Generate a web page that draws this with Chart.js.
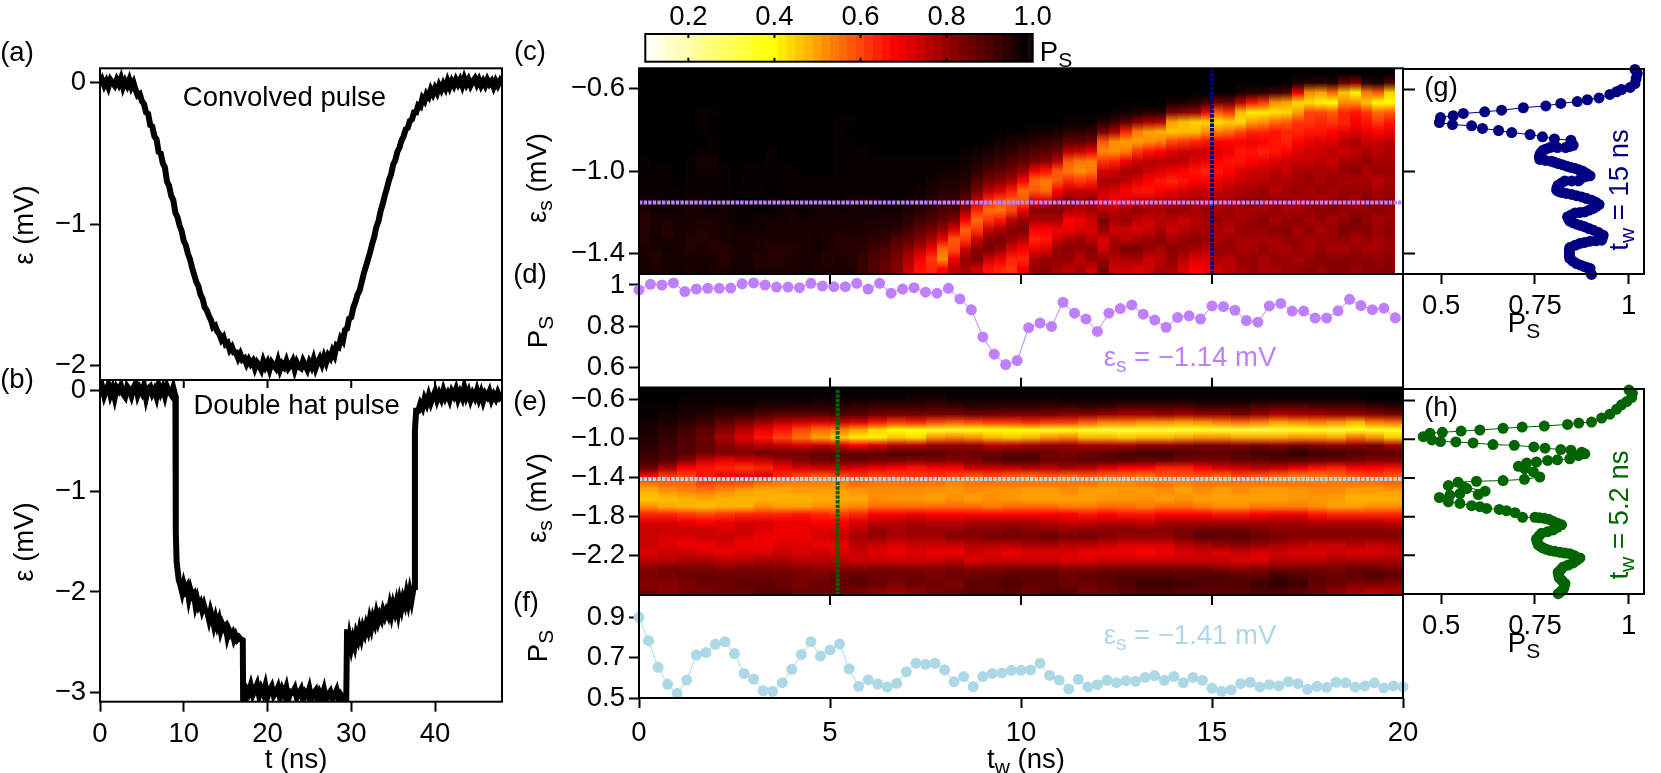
<!DOCTYPE html>
<html>
<head>
<meta charset="utf-8">
<title>Pulse panels</title>
<script src="https://cdn.jsdelivr.net/npm/chart.js@4/dist/chart.umd.min.js"></script>
<style>
  html, body { margin: 0; padding: 0; background: #fff; }
  #page { position: relative; width: 1661px; height: 773px; overflow: hidden; }
  canvas { position: absolute; left: 0; top: 0; }
  .lbl { position: absolute; transform: translate(-50%, -50%); font: 27.5px "Liberation Sans", Arial, sans-serif; line-height: 1; white-space: nowrap; color: #000; }
  .rot { transform: translate(-50%, -50%) rotate(-90deg); }
  .lbl sub { font-size: 21px; line-height: 0; vertical-align: -6px; }
</style>
</head>
<body>
<div id="page"></div>
<script>
"use strict";

// panel (a) convolved pulse
const pulseATimes = [0,0.25,0.5,0.75,1,1.25,1.5,1.75,2,2.25,2.5,2.75,3,3.25,3.5,3.75,4,4.25,4.5,4.75,5,5.25,5.5,5.75,6,6.25,6.5,6.75,7,7.25,7.5,7.75,8,8.25,8.5,8.75,9,9.25,9.5,9.75,10,10.25,10.5,10.75,11,11.25,11.5,11.75,12,12.25,12.5,12.75,13,13.25,13.5,13.75,14,14.25,14.5,14.75,15,15.25,15.5,15.75,16,16.25,16.5,16.75,17,17.25,17.5,17.75,18,18.25,18.5,18.75,19,19.25,19.5,19.75,20,20.25,20.5,20.75,21,21.25,21.5,21.75,22,22.25,22.5,22.75,23,23.25,23.5,23.75,24,24.25,24.5,24.75,25,25.25,25.5,25.75,26,26.25,26.5,26.75,27,27.25,27.5,27.75,28,28.25,28.5,28.75,29,29.25,29.5,29.75,30,30.25,30.5,30.75,31,31.25,31.5,31.75,32,32.25,32.5,32.75,33,33.25,33.5,33.75,34,34.25,34.5,34.75,35,35.25,35.5,35.75,36,36.25,36.5,36.75,37,37.25,37.5,37.75,38,38.25,38.5,38.75,39,39.25,39.5,39.75,40,40.25,40.5,40.75,41,41.25,41.5,41.75,42,42.25,42.5,42.75,43,43.25,43.5,43.75,44,44.25,44.5,44.75,45,45.25,45.5,45.75,46,46.25,46.5,46.75,47,47.25,47.5,47.75,48];
const pulseAValues = [-0.01,0.02,-0.02,0.01,-0.03,0.02,0,-0.02,0.02,-0.01,0.03,-0.03,0.01,-0.02,0.02,-0.03,0,-0.05,-0.09,-0.08,-0.13,-0.15,-0.21,-0.22,-0.30,-0.31,-0.38,-0.40,-0.49,-0.50,-0.57,-0.60,-0.70,-0.73,-0.80,-0.83,-0.92,-0.95,-1.01,-1.05,-1.12,-1.15,-1.21,-1.25,-1.31,-1.36,-1.41,-1.44,-1.50,-1.53,-1.59,-1.61,-1.65,-1.68,-1.73,-1.72,-1.76,-1.78,-1.82,-1.80,-1.85,-1.84,-1.89,-1.87,-1.91,-1.91,-1.95,-1.92,-1.96,-1.95,-1.99,-1.96,-1.99,-1.97,-2.02,-1.98,-2.00,-2.03,-1.97,-2.01,-1.98,-2.03,-1.98,-2.00,-2.02,-1.97,-2.03,-1.99,-2.01,-1.97,-2.02,-2.00,-1.97,-2.03,-1.98,-2.01,-2.02,-1.97,-2.00,-2.03,-1.98,-2.01,-1.96,-2.02,-1.98,-1.95,-1.99,-1.94,-1.98,-1.93,-1.95,-1.90,-1.93,-1.86,-1.87,-1.81,-1.83,-1.75,-1.74,-1.67,-1.66,-1.59,-1.55,-1.50,-1.47,-1.41,-1.35,-1.30,-1.25,-1.20,-1.14,-1.09,-1.02,-0.98,-0.91,-0.86,-0.80,-0.75,-0.69,-0.65,-0.58,-0.55,-0.49,-0.46,-0.41,-0.38,-0.33,-0.32,-0.27,-0.26,-0.21,-0.21,-0.16,-0.17,-0.11,-0.13,-0.08,-0.10,-0.05,-0.08,-0.04,-0.07,-0.02,-0.05,-0.01,-0.04,0.01,-0.03,0.01,-0.02,0.02,-0.01,0.02,-0.02,0.03,-0.01,0.02,-0.02,0.01,0.03,-0.01,0.02,-0.02,0.01,-0.02,0.02,-0.01,0.01,-0.03,0.01,-0.02,0.01,-0.02];

// panel (b) double hat pulse
const pulseBTimes = [0,0.25,0.5,0.75,1,1.25,1.5,1.75,2,2.25,2.5,2.75,3,3.25,3.5,3.75,4,4.25,4.5,4.75,5,5.25,5.5,5.75,6,6.25,6.5,6.75,7,7.25,7.5,7.75,8,8.25,8.5,8.75,8.9,9,9.05,9.15,9.4,9.6,9.8,10,10.2,10.4,10.6,10.8,11,11.2,11.4,11.6,11.8,12,12.2,12.4,12.6,12.8,13,13.2,13.4,13.6,13.8,14,14.2,14.4,14.6,14.8,15,15.2,15.4,15.6,15.8,16,16.2,16.4,16.6,16.8,17.05,17.1,17.3,17.35,17.4,17.75,18,18.25,18.5,18.75,19,19.25,19.5,19.75,20,20.25,20.5,20.75,21,21.25,21.5,21.75,22,22.25,22.5,22.75,23,23.25,23.5,23.75,24,24.25,24.5,24.75,25,25.25,25.5,25.75,26,26.25,26.5,26.75,27,27.25,27.5,27.75,28,28.25,28.5,28.75,29,29.25,29.4,29.5,29.6,29.8,30,30.2,30.4,30.6,30.8,31,31.2,31.4,31.6,31.8,32,32.2,32.4,32.6,32.8,33,33.2,33.4,33.6,33.8,34,34.2,34.4,34.6,34.8,35,35.2,35.4,35.6,35.8,36,36.2,36.4,36.6,36.8,37,37.2,37.4,37.55,37.6,37.75,38,38.25,38.5,38.75,39,39.25,39.5,39.75,40,40.25,40.5,40.75,41,41.25,41.5,41.75,42,42.25,42.5,42.75,43,43.25,43.5,43.75,44,44.25,44.5,44.75,45,45.25,45.5,45.75,46,46.25,46.5,46.75,47,47.25,47.5,47.75,48];
const pulseBValues = [-0.02,0.04,-0.05,0.01,0.06,-0.04,0.02,-0.07,0.03,0,0.05,-0.03,-0.06,0.04,0.01,-0.05,0.03,0.07,-0.04,0.02,-0.02,0.05,-0.07,0.02,0.04,-0.03,0.01,-0.06,0.05,-0.02,0.03,-0.05,0.04,-0.01,-0.04,0.03,-0.02,-0.05,-1.4,-1.7,-1.88,-1.93,-2.0,-1.92,-1.98,-1.95,-2.06,-1.98,-2.04,-2.02,-2.13,-2.07,-2.14,-2.11,-2.18,-2.13,-2.19,-2.2,-2.27,-2.19,-2.25,-2.33,-2.26,-2.33,-2.28,-2.38,-2.32,-2.36,-2.34,-2.44,-2.38,-2.42,-2.4,-2.47,-2.43,-2.47,-2.45,-2.47,-2.48,-3.2,-3.2,-3.1,-2.95,-3.0,-2.93,-3.02,-2.97,-2.92,-3.03,-2.96,-3.01,-2.93,-3.04,-2.98,-2.94,-3.03,-3.0,-2.95,-3.05,-2.97,-3.02,-2.95,-3.06,-2.99,-3.0,-2.96,-3.05,-3.01,-2.97,-3.07,-3.0,-3.03,-2.96,-3.06,-3.01,-2.98,-3.08,-3.0,-3.04,-2.97,-3.07,-3.02,-2.99,-3.06,-3.03,-2.98,-3.08,-3.02,-3.05,-3.03,-3.09,-2.37,-2.6,-2.46,-2.55,-2.47,-2.53,-2.42,-2.47,-2.38,-2.45,-2.36,-2.41,-2.33,-2.38,-2.28,-2.35,-2.26,-2.31,-2.22,-2.29,-2.23,-2.27,-2.19,-2.24,-2.19,-2.23,-2.14,-2.22,-2.13,-2.19,-2.11,-2.2,-2.09,-2.16,-2.07,-2.12,-2.02,-2.1,-2.0,-2.08,-1.98,-1.95,-0.4,-0.2,-0.2,-0.13,-0.17,-0.08,-0.13,-0.05,-0.12,-0.06,-0.01,-0.09,-0.03,-0.08,0,-0.07,-0.03,-0.09,-0.01,-0.05,0.01,-0.08,-0.02,-0.07,0.03,-0.06,-0.01,-0.09,-0.03,-0.07,0,-0.08,-0.02,-0.1,-0.03,-0.06,-0.01,-0.09,-0.04,-0.08,-0.02,-0.07,-0.05];

// panel (c) P_S in percent: one list per t_w cell (0.3 ns), top row eps = -0.5, 21 rows to -1.5
const heatCColumns = [
[99,99,99,99,99,99,99,99,99,98,98,98,98,97,96,95,95,95,96,96,96],
[99,99,99,99,99,99,99,99,99,99,98,98,98,97,97,96,96,97,96,95,96],
[99,99,99,99,99,99,99,99,99,99,98,98,98,98,97,96,95,96,97,96,96],
[99,99,99,99,99,99,99,99,99,99,99,99,98,98,97,96,96,97,96,96,97],
[99,99,99,99,99,99,99,99,99,98,98,98,98,97,96,96,96,95,95,96,96],
[99,99,99,99,98,98,98,99,98,97,97,98,98,97,97,96,95,95,96,96,97],
[99,99,99,99,98,99,99,98,98,97,97,98,98,98,97,96,96,95,95,96,96],
[99,99,99,99,99,99,99,99,99,99,98,98,98,98,97,97,96,96,95,95,96],
[99,99,99,99,99,99,99,99,99,99,99,99,98,99,98,98,97,97,96,96,97],
[99,99,99,99,99,99,99,99,99,99,98,98,98,99,98,98,97,97,96,96,97],
[99,99,99,99,99,99,99,99,99,99,98,98,98,99,98,97,97,96,96,95,96],
[99,99,99,99,99,99,99,99,98,98,98,98,99,98,98,97,96,96,95,95,96],
[99,99,99,99,99,99,99,99,99,99,98,98,98,98,97,97,96,96,95,95,96],
[99,99,99,99,99,99,99,99,99,99,98,98,98,98,97,96,96,96,95,96,96],
[99,99,99,99,99,99,99,99,99,99,99,98,98,98,98,97,96,96,96,96,97],
[99,99,99,99,99,99,99,99,99,99,99,98,98,98,97,97,96,97,97,96,96],
[99,99,99,99,99,99,99,99,99,99,99,98,98,98,97,97,96,96,96,95,96],
[99,99,99,99,99,98,98,98,98,98,98,98,98,98,97,96,96,95,95,96,96],
[99,99,99,99,99,98,99,98,98,98,98,98,98,97,97,96,96,95,95,95,96],
[99,99,99,99,99,99,99,99,98,98,98,98,98,97,97,96,96,95,94,93,93],
[99,99,99,99,99,99,99,99,99,98,98,98,98,97,97,96,95,94,92,90,90],
[99,99,99,99,99,99,99,99,99,98,98,98,98,98,97,96,95,93,90,88,87],
[99,99,99,99,99,99,99,99,99,98,98,98,98,98,97,96,94,90,86,84,83],
[99,99,99,99,99,99,99,99,99,98,98,98,98,97,96,94,91,87,82,77,74],
[99,99,99,99,99,99,99,99,99,98,98,98,97,96,95,92,88,83,76,69,66],
[99,99,99,99,99,99,99,99,99,98,98,97,96,95,93,90,85,78,69,62,64],
[99,99,99,99,99,99,99,99,99,98,97,96,95,93,91,87,80,70,56,52,68],
[99,99,99,99,99,99,99,99,99,98,97,96,95,93,90,84,72,58,60,70,76],
[99,99,99,99,99,99,99,99,98,97,96,95,92,88,80,68,57,62,74,80,78],
[99,99,99,99,99,99,99,99,97,96,94,90,85,76,64,56,62,74,82,84,74],
[99,99,99,99,99,99,99,98,96,94,90,85,76,64,56,62,74,82,84,74,66],
[99,99,99,99,99,99,99,97,95,92,88,82,72,60,55,66,78,84,80,70,64],
[99,99,99,99,99,99,98,96,94,90,85,78,66,57,60,76,82,80,72,64,62],
[99,99,99,99,99,99,98,95,92,88,80,68,56,58,70,80,84,76,68,64,70],
[99,99,99,99,99,99,97,94,90,84,70,56,58,72,82,78,68,64,70,78,80],
[99,99,99,99,99,99,97,93,89,82,66,54,56,72,82,78,68,66,72,80,82],
[99,99,99,99,99,99,96,92,86,76,58,58,68,78,82,78,70,74,80,80,78],
[99,99,99,99,99,98,94,88,76,58,54,64,74,82,78,68,70,78,82,80,76],
[99,99,99,99,99,98,94,88,74,55,52,62,74,80,76,70,72,80,80,76,78],
[99,99,99,99,99,98,93,86,70,54,54,64,74,82,78,74,72,76,82,80,74],
[99,99,99,99,99,95,84,58,53,62,72,78,74,72,76,84,80,72,74,80,84],
[99,99,99,99,98,92,78,52,52,64,74,78,72,68,76,78,74,78,80,76,74],
[99,99,99,99,97,88,64,50,54,70,78,76,68,72,78,80,74,76,84,78,74],
[99,99,99,99,96,82,54,50,62,74,78,72,66,74,80,76,72,78,84,78,72],
[99,99,99,99,95,78,50,52,66,76,74,68,66,74,78,74,74,80,80,74,74],
[99,99,99,99,95,76,48,54,68,76,72,66,68,76,78,76,78,82,78,76,78],
[99,99,99,96,84,50,46,60,72,76,70,64,70,76,80,76,74,78,82,80,78],
[99,99,99,96,82,47,47,62,74,76,68,66,72,78,80,74,76,80,80,76,72],
[99,99,99,95,80,45,47,64,74,72,66,68,74,78,78,76,78,82,78,72,68],
[99,99,99,92,70,45,52,66,74,70,64,68,74,76,80,78,78,80,76,72,70],
[99,99,99,85,58,43,54,68,72,68,66,70,74,78,78,80,78,78,80,78,74],
[99,99,99,86,62,45,56,68,70,66,68,72,76,78,80,78,76,80,80,76,76],
[99,99,96,76,47,44,60,68,66,66,72,74,78,80,78,78,80,78,78,80,78],
[99,99,95,66,42,50,64,70,66,68,74,76,78,82,78,80,80,78,78,80,80],
[99,99,94,62,42,52,64,68,64,70,74,76,80,80,78,82,80,78,80,78,78],
[99,99,92,52,43,56,66,66,66,72,76,78,76,80,80,78,82,78,78,80,78],
[99,99,90,50,44,58,64,64,68,74,74,78,78,80,78,80,82,80,78,80,80],
[99,96,70,44,50,62,64,68,72,74,78,78,80,78,78,82,78,80,80,78,80],
[99,95,52,44,60,62,66,70,74,74,78,80,78,80,80,78,82,78,78,80,82],
[99,94,50,41,60,64,66,72,74,76,78,78,80,78,82,80,78,80,80,82,80],
[99,95,56,40,58,62,68,72,76,74,78,80,78,80,82,78,80,80,78,82,82],
[99,86,46,52,64,64,70,76,74,78,80,78,80,82,80,80,84,80,78,82,82],
[99,82,41,52,66,68,72,78,76,78,82,78,80,78,80,84,82,78,80,82,80],
[99,94,54,46,62,66,70,74,78,80,78,78,80,82,80,82,82,80,78,82,82],
[99,96,58,40,56,62,68,74,76,78,80,76,78,80,82,78,80,78,78,80,82],
[99,90,45,40,58,66,70,76,78,78,80,78,80,82,80,80,82,80,80,82,82]
];

// panel (e) P_S in percent: one list per 0.5 ns cell, top row eps = -0.48, 27 rows to -2.6
const heatEColumns = [
[99,99,98,98,97,96,95,94,93,91,86,68,54,48,46,52,64,72,74,74,74,72,76,82,84,82,84],
[99,99,98,97,96,94,93,92,91,88,78,62,56,51,47,49,64,72,74,72,72,74,76,84,84,82,82],
[99,98,97,96,94,92,90,90,90,82,68,60,56,53,48,48,62,70,74,72,70,74,78,84,86,84,84],
[99,98,97,95,92,88,86,87,86,74,66,66,60,54,49,47,60,68,74,74,70,72,78,84,86,86,84],
[99,98,96,93,88,82,78,82,84,70,64,70,58,52,48,48,62,70,72,74,72,70,76,82,86,86,86],
[99,98,96,92,84,76,72,78,84,72,62,71,57,50,48,48,64,72,74,72,70,72,76,84,86,88,86],
[99,98,95,90,80,70,66,76,86,74,64,73,54,49,48,52,64,72,72,70,70,72,78,84,86,88,88],
[99,98,95,88,76,66,60,74,86,78,68,64,53,49,48,50,64,70,70,70,72,74,78,82,86,86,88],
[99,98,94,88,74,60,55,72,86,82,72,60,53,50,48,50,66,70,70,70,72,72,76,82,84,84,86],
[99,97,94,88,72,56,50,74,88,84,74,58,53,50,49,52,64,68,72,72,70,74,76,80,84,86,86],
[99,98,94,90,74,54,46,72,88,86,74,60,53,50,49,52,62,68,72,74,70,72,76,82,86,88,86],
[99,97,93,89,72,50,42,68,88,86,72,62,55,51,49,53,64,72,76,78,76,74,74,82,88,88,84],
[99,97,92,86,66,44,42,72,88,84,70,60,54,52,52,56,68,76,80,80,74,72,74,84,86,86,82],
[99,97,92,84,62,40,46,76,90,84,68,60,54,52,51,56,68,76,78,78,72,70,74,82,86,84,80],
[98,96,92,85,64,38,44,76,90,82,66,62,54,52,51,56,70,78,80,78,74,72,74,82,86,86,82],
[98,96,91,84,60,36,52,80,88,84,68,62,54,51,50,56,68,76,80,78,74,70,74,82,84,86,84],
[99,97,92,84,58,36,54,80,86,82,68,60,52,51,52,56,68,76,80,82,74,70,76,84,86,84,86],
[99,97,94,86,60,38,52,80,86,84,74,58,54,52,50,56,68,78,82,82,76,74,72,82,86,88,88],
[99,97,93,85,62,40,48,76,86,88,74,60,54,51,52,54,68,78,82,84,76,72,74,82,88,88,88],
[99,97,93,84,62,40,46,76,88,90,74,58,54,51,51,56,68,78,84,84,76,70,74,84,88,90,88],
[99,97,93,84,64,38,48,78,88,90,76,56,54,50,50,56,68,78,82,84,78,72,74,84,88,88,86],
[99,97,92,84,62,36,52,80,86,86,76,58,54,50,50,56,68,76,82,86,78,72,74,84,88,88,88],
[99,98,92,82,62,38,54,80,84,86,78,56,54,52,50,54,68,74,80,84,76,72,72,82,86,86,88],
[99,98,93,82,58,36,48,78,86,88,76,58,54,50,50,54,66,74,82,84,76,70,72,82,88,86,84],
[99,98,92,80,54,34,48,78,88,88,72,56,52,50,51,56,68,76,82,82,74,70,74,84,88,88,86],
[99,98,90,78,54,34,46,78,90,88,68,56,52,51,51,56,66,76,82,80,72,70,74,84,90,90,88],
[99,98,90,78,52,34,48,80,92,86,68,54,54,50,52,54,66,74,82,80,72,68,74,84,90,92,90],
[99,98,90,80,52,34,48,80,92,86,64,58,54,52,50,56,68,78,82,80,72,70,74,84,90,92,90],
[99,98,90,78,50,34,50,82,90,84,64,58,52,50,52,56,68,78,84,84,76,72,74,84,88,92,88],
[99,98,92,80,52,36,52,84,88,84,68,58,54,52,50,54,68,78,86,88,78,74,74,84,90,90,88],
[99,98,92,80,54,34,52,84,88,84,72,56,54,50,50,52,66,78,86,88,80,72,74,82,90,90,88],
[99,98,92,84,56,34,50,82,90,86,74,60,54,52,50,52,66,78,86,88,82,74,72,80,88,90,88],
[99,98,90,80,54,32,50,84,92,86,76,58,54,50,50,54,68,78,84,86,80,72,72,82,88,92,90],
[99,98,88,76,50,34,50,82,92,88,74,56,54,50,50,54,70,78,82,84,78,74,76,84,92,94,90],
[99,98,88,78,52,36,52,84,94,88,70,54,54,51,51,54,70,78,82,82,76,72,76,84,90,92,88],
[99,98,90,78,54,36,52,82,92,86,66,54,54,52,51,52,66,76,82,82,74,72,76,84,88,88,86],
[99,98,90,80,52,34,50,80,92,84,64,56,54,52,50,50,64,76,82,82,74,74,78,84,86,86,82],
[99,98,90,80,48,36,56,82,90,84,68,58,54,50,48,50,64,76,82,82,76,72,78,86,88,84,78],
[99,99,92,82,54,36,52,84,88,82,68,60,54,50,48,52,64,76,82,82,74,72,78,86,90,84,76],
[99,99,94,84,56,36,46,78,88,82,66,58,56,50,48,52,64,74,82,82,76,74,78,84,88,82,78]
];

// colour bar cells, P_S in percent
const colorBarValues = [10,12,14,16,18,20,22,24,26,28,30,32,34,36,38,40,42,44,46,48,50,52,54,56,58,60,62,64,66,68,70,72,74,76,78,80,82,84,86,88,90,92,94,96,98,100];
const colorBarTicks = [0.2,0.4,0.6,0.8,1.0];
const colorBarLabels = ["0.2","0.4","0.6","0.8","1.0"];

// panel (d)
const cutDTimes = [0,0.3,0.6,0.9,1.2,1.5,1.8,2.1,2.4,2.7,3,3.3,3.6,3.9,4.2,4.5,4.8,5.1,5.4,5.7,6,6.3,6.6,6.9,7.2,7.5,7.8,8.1,8.4,8.7,9,9.3,9.6,9.9,10.2,10.5,10.8,11.1,11.4,11.7,12,12.3,12.6,12.9,13.2,13.5,13.8,14.1,14.4,14.7,15,15.3,15.6,15.9,16.2,16.5,16.8,17.1,17.4,17.7,18,18.3,18.6,18.9,19.2,19.5,19.8];
const cutDValues = [0.976,1.003,1.0,1.01,0.968,0.98,0.984,0.984,0.985,1.006,1.01,1.0,0.99,0.99,0.987,1.008,0.995,0.992,0.992,1.008,0.98,1.008,0.96,0.98,0.987,0.965,0.96,0.984,0.932,0.879,0.747,0.663,0.613,0.632,0.792,0.815,0.798,0.916,0.863,0.835,0.774,0.863,0.885,0.903,0.858,0.829,0.794,0.842,0.85,0.834,0.898,0.895,0.877,0.827,0.819,0.898,0.91,0.873,0.873,0.839,0.839,0.874,0.93,0.90,0.88,0.887,0.84];

// panel (f)
const cutFTimes = [0,0.25,0.5,0.75,1,1.25,1.5,1.75,2,2.25,2.5,2.75,3,3.25,3.5,3.75,4,4.25,4.5,4.75,5,5.25,5.5,5.75,6,6.25,6.5,6.75,7,7.25,7.5,7.75,8,8.25,8.5,8.75,9,9.25,9.5,9.75,10,10.25,10.5,10.75,11,11.25,11.5,11.75,12,12.25,12.5,12.75,13,13.25,13.5,13.75,14,14.25,14.5,14.75,15,15.25,15.5,15.75,16,16.25,16.5,16.75,17,17.25,17.5,17.75,18,18.25,18.5,18.75,19,19.25,19.5,19.75,20];
const cutFValues = [0.90,0.784,0.652,0.568,0.523,0.589,0.713,0.725,0.766,0.779,0.72,0.622,0.594,0.536,0.533,0.576,0.642,0.716,0.779,0.708,0.738,0.768,0.645,0.558,0.591,0.569,0.555,0.573,0.63,0.672,0.667,0.672,0.64,0.58,0.606,0.556,0.606,0.622,0.624,0.637,0.637,0.639,0.672,0.612,0.589,0.545,0.593,0.555,0.566,0.588,0.576,0.586,0.583,0.602,0.611,0.588,0.607,0.576,0.602,0.588,0.548,0.533,0.54,0.571,0.578,0.555,0.566,0.56,0.581,0.571,0.543,0.558,0.553,0.578,0.575,0.555,0.56,0.575,0.55,0.56,0.555];

// panel (g)
const cutGValues = [1.017,1.023,1.02,1.017,1.004,0.981,0.968,0.95,0.921,0.89,0.863,0.819,0.779,0.719,0.661,0.616,0.559,0.532,0.498,0.495,0.53,0.581,0.61,0.653,0.688,0.737,0.77,0.802,0.846,0.852,0.842,0.832,0.81,0.79,0.78,0.772,0.766,0.763,0.762,0.763,0.778,0.794,0.803,0.812,0.823,0.835,0.846,0.857,0.867,0.877,0.888,0.897,0.887,0.877,0.872,0.866,0.848,0.83,0.821,0.812,0.809,0.808,0.813,0.821,0.834,0.848,0.861,0.875,0.888,0.901,0.912,0.921,0.914,0.906,0.895,0.883,0.87,0.857,0.847,0.837,0.84,0.843,0.852,0.861,0.872,0.883,0.894,0.906,0.92,0.932,0.93,0.928,0.913,0.897,0.883,0.87,0.857,0.843,0.842,0.842,0.842,0.843,0.851,0.861,0.872,0.883,0.89,0.897,0.901];
const cutGEps = [-0.502,-0.522,-0.546,-0.571,-0.59,-0.6,-0.611,-0.624,-0.641,-0.65,-0.659,-0.668,-0.68,-0.689,-0.701,-0.709,-0.717,-0.728,-0.737,-0.761,-0.771,-0.777,-0.79,-0.8,-0.81,-0.82,-0.831,-0.841,-0.847,-0.872,-0.878,-0.883,-0.883,-0.883,-0.89,-0.896,-0.908,-0.92,-0.93,-0.941,-0.946,-0.95,-0.955,-0.961,-0.967,-0.974,-0.98,-0.985,-0.992,-0.998,-1.01,-1.021,-1.024,-1.026,-1.036,-1.046,-1.046,-1.046,-1.056,-1.067,-1.079,-1.091,-1.097,-1.102,-1.107,-1.112,-1.118,-1.124,-1.132,-1.14,-1.15,-1.161,-1.17,-1.18,-1.188,-1.197,-1.2,-1.202,-1.212,-1.221,-1.232,-1.242,-1.25,-1.257,-1.263,-1.27,-1.278,-1.286,-1.298,-1.311,-1.323,-1.335,-1.338,-1.34,-1.346,-1.351,-1.36,-1.371,-1.385,-1.4,-1.412,-1.424,-1.437,-1.449,-1.457,-1.465,-1.469,-1.473,-1.502];

// panel (h)
const cutHValues = [1.001,1.01,1.008,0.995,0.981,0.968,0.95,0.928,0.901,0.867,0.837,0.775,0.716,0.665,0.603,0.553,0.503,0.47,0.452,0.475,0.498,0.539,0.585,0.638,0.695,0.747,0.777,0.819,0.846,0.875,0.883,0.866,0.843,0.81,0.784,0.754,0.728,0.706,0.723,0.746,0.763,0.722,0.665,0.594,0.545,0.519,0.559,0.617,0.599,0.568,0.55,0.523,0.495,0.519,0.55,0.581,0.603,0.621,0.655,0.674,0.697,0.717,0.75,0.762,0.775,0.787,0.799,0.81,0.821,0.81,0.799,0.784,0.768,0.761,0.754,0.756,0.759,0.765,0.772,0.78,0.79,0.803,0.817,0.83,0.843,0.856,0.87,0.861,0.852,0.839,0.826,0.819,0.812,0.813,0.815,0.822,0.83,0.828,0.826,0.819,0.812];
const cutHEps = [-0.491,-0.525,-0.569,-0.61,-0.644,-0.689,-0.74,-0.781,-0.822,-0.832,-0.846,-0.863,-0.874,-0.887,-0.904,-0.915,-0.928,-0.938,-0.973,-1.007,-1.024,-1.027,-1.038,-1.055,-1.062,-1.079,-1.092,-1.106,-1.113,-1.133,-1.15,-1.168,-1.202,-1.212,-1.219,-1.236,-1.246,-1.28,-1.304,-1.338,-1.39,-1.414,-1.427,-1.434,-1.444,-1.479,-1.492,-1.537,-1.571,-1.509,-1.561,-1.578,-1.602,-1.646,-1.663,-1.687,-1.697,-1.715,-1.725,-1.738,-1.759,-1.807,-1.807,-1.812,-1.817,-1.827,-1.851,-1.868,-1.885,-1.91,-1.937,-1.955,-1.971,-2.0,-2.032,-2.06,-2.091,-2.108,-2.125,-2.137,-2.149,-2.159,-2.169,-2.176,-2.183,-2.205,-2.227,-2.253,-2.279,-2.3,-2.32,-2.347,-2.374,-2.403,-2.432,-2.46,-2.491,-2.52,-2.552,-2.575,-2.597];

// where the cuts sit
const cutEpsC = -1.153, cutTimeC = 15;
const cutEpsE = -1.413, cutTimeE = 5.2;

const violet = "#bf80ff", navy = "#000080", lightBlue = "#add8e6", darkGreen = "#006400";
const tickFont = { family: "Liberation Sans", size: 27.5 };

const page = document.getElementById("page");

function zip(xs, ys) { return xs.map((x, i) => ({ x: x, y: ys[i] })); }

// reversed hot colour table, P_S in percent -> rgb
const colorStops = [[10,255,255,255],[20,255,255,170],[40,255,255,0],[50,255,160,0],[60,255,70,10],[68,255,0,0],[80,150,0,0],[90,80,0,0],[99,0,0,0],[100,20,10,10]];
function heatColor(p) {
  for (let i = 1; i < colorStops.length; i++) {
    if (p <= colorStops[i][0]) {
      let a = colorStops[i - 1], b = colorStops[i];
      let f = (p - a[0]) / (b[0] - a[0]);
      return `rgb(${a[1] + f * (b[1] - a[1])},${a[2] + f * (b[2] - a[2])},${a[3] + f * (b[3] - a[3])})`;
    }
  }
  return "rgb(20,10,10)";
}

// fills one cell per column through the chart's own scales
function heatPlugin(columns, step, yTop, yBottom) {
  return {
    id: "heat",
    beforeDatasetsDraw(chart) {
      let ctx = chart.ctx, xs = chart.scales.x, ys = chart.scales.y;
      let top = ys.getPixelForValue(yTop), bottom = ys.getPixelForValue(yBottom);
      columns.forEach((col, j) => {
        let x0 = Math.round(xs.getPixelForValue(j * step));
        let x1 = Math.round(xs.getPixelForValue((j + 1) * step));
        let g = ctx.createLinearGradient(0, top, 0, bottom);
        col.forEach((p, i) => g.addColorStop((i + 0.5) / col.length, heatColor(p)));
        g.addColorStop(0, heatColor(col[0]));
        g.addColorStop(1, heatColor(col[col.length - 1]));
        ctx.fillStyle = g;
        ctx.fillRect(x0, top, x1 - x0, bottom - top);
      });
    }
  };
}

function colorBarPlugin() {
  return {
    id: "bar",
    beforeDatasetsDraw(chart) {
      let ctx = chart.ctx, xs = chart.scales.x, a = chart.chartArea;
      colorBarValues.forEach(p => {
        let x0 = xs.getPixelForValue(p / 100 - 0.01);
        let x1 = xs.getPixelForValue(Math.min(p / 100 + 0.01, 1));
        ctx.fillStyle = heatColor(p);
        ctx.fillRect(Math.floor(x0), a.top, Math.ceil(x1) - Math.floor(x0), a.bottom - a.top);
      });
    }
  };
}

// frame plus the ticks that point into the plot
function framePlugin(p) {
  return {
    id: "frame",
    afterDraw(chart) {
      let ctx = chart.ctx, a = chart.chartArea;
      ctx.save();
      ctx.strokeStyle = "#000";
      ctx.lineWidth = 2;
      ctx.beginPath();
      (p.innerTop || []).forEach(v => {
        let x = chart.scales.x.getPixelForValue(v);
        ctx.moveTo(x, a.top); ctx.lineTo(x, a.top + (p.innerLen || 10));
      });
      (p.innerBottom || []).forEach(v => {
        let x = chart.scales.x.getPixelForValue(v);
        ctx.moveTo(x, a.bottom); ctx.lineTo(x, a.bottom - (p.innerLen || 10));
      });
      (p.innerLeft || []).forEach(v => {
        let y = chart.scales.y.getPixelForValue(v);
        ctx.moveTo(a.left, y); ctx.lineTo(a.left + 12, y);
      });
      ctx.stroke();
      ctx.strokeRect(a.left, a.top, a.right - a.left, a.bottom - a.top);
      ctx.restore();
    }
  };
}

function makePanel(p) {
  let canvas = document.createElement("canvas");
  canvas.width = 1661;
  canvas.height = 773;
  page.appendChild(canvas);
  let tickSetup = (labels, padding) => ({
    display: true,
    autoSkip: false,
    maxRotation: 0,
    minRotation: 0,
    padding: padding,
    color: "#000",
    font: tickFont,
    callback: (v, i) => (labels ? labels[i] : "")
  });
  let gridSetup = () => ({ display: true, drawOnChartArea: false, tickLength: 10, tickWidth: 2, tickColor: "#000" });
  let plugins = [framePlugin(p)];
  if (p.extraPlugin) plugins.unshift(p.extraPlugin);
  return new Chart(canvas, {
    type: "scatter",
    data: { datasets: p.datasets || [] },
    plugins: plugins,
    options: {
      responsive: false,
      animation: false,
      devicePixelRatio: 1,
      events: [],
      layout: {
        autoPadding: false,
        padding: {
          left: p.hideY ? p.left : p.left - 70,
          right: 1661 - p.right,
          top: p.xOnTop ? p.top - 34 : p.top,
          bottom: p.xOnTop ? 773 - p.bottom : 773 - p.bottom - 50
        }
      },
      plugins: { legend: { display: false }, tooltip: { enabled: false } },
      scales: {
        x: {
          type: "linear",
          position: p.xOnTop ? "top" : "bottom",
          min: p.xMin,
          max: p.xMax,
          afterBuildTicks: s => { s.ticks = (p.xTicks || []).map(v => ({ value: v })); },
          afterFit: s => { s.height = p.xOnTop ? 34 : 50; },
          grid: p.xOnTop ? { display: false } : gridSetup(),
          border: { display: false },
          ticks: tickSetup(p.xLabels, p.xOnTop ? -8 : p.xPad === undefined ? 6 : p.xPad)
        },
        y: {
          type: "linear",
          display: !p.hideY,
          min: p.yMin,
          max: p.yMax,
          afterBuildTicks: s => { s.ticks = (p.yTicks || []).map(v => ({ value: v })); },
          afterFit: s => { s.width = p.hideY ? 0 : 70; },
          grid: gridSetup(),
          border: { display: false },
          ticks: tickSetup(p.yLabels, 4)
        }
      }
    }
  });
}

function dotSeries(xs, ys, color) {
  return {
    data: zip(xs, ys), showLine: true, borderColor: color, borderWidth: 1, tension: 0,
    pointRadius: 5.5, pointBackgroundColor: color, pointBorderWidth: 0, clip: false
  };
}
function pulseSeries(xs, ys) {
  return { data: zip(xs, ys), showLine: true, borderColor: "#000", borderWidth: 6, tension: 0, pointRadius: 0, borderJoinStyle: "miter" };
}
function cutLine(x0, y0, x1, y1, color) {
  return {
    data: [{ x: x0, y: y0 }, { x: x1, y: y1 }], showLine: true, borderColor: color, borderWidth: 4,
    borderDash: [3.4, 1.2], pointRadius: 0, clip: false
  };
}

const tw5 = [5, 10, 15];

// (a)
makePanel({
  left: 100, top: 68.3, right: 502, bottom: 380, xMin: 0, xMax: 48, yMin: -2.104, yMax: 0.102,
  yTicks: [-2, -1, 0], yLabels: ["\u22122", "\u22121", "0"],
  datasets: [pulseSeries(pulseATimes, pulseAValues)]
});
// (b)
makePanel({
  left: 100, top: 380, right: 502, bottom: 701.7, xMin: 0, xMax: 48, yMin: -3.09, yMax: 0.106,
  xTicks: [0, 10, 20, 30, 40], xLabels: ["0", "10", "20", "30", "40"], innerTop: [10, 20, 30, 40], innerLen: 8,
  yTicks: [-3, -2, -1, 0], yLabels: ["\u22123", "\u22122", "\u22121", "0"],
  datasets: [pulseSeries(pulseBTimes, pulseBValues)]
});
// colour bar
makePanel({
  left: 645.3, top: 34, right: 1032.7, bottom: 61.7, xMin: 0.1, xMax: 1.0, yMin: 0, yMax: 1, hideY: true, xOnTop: true,
  xTicks: colorBarTicks, xLabels: colorBarLabels, innerTop: [0.2, 0.4, 0.6, 0.8], innerBottom: [0.2, 0.4, 0.6, 0.8], innerLen: 4,
  extraPlugin: colorBarPlugin()
});
// (c)
makePanel({
  left: 639, top: 68.3, right: 1403, bottom: 274, xMin: 0, xMax: 20, yMin: -1.5, yMax: -0.5,
  yTicks: [-1.4, -1.0, -0.6], yLabels: ["\u22121.4", "\u22121.0", "\u22120.6"],
  extraPlugin: heatPlugin(heatCColumns, 0.3, -0.5, -1.5),
  datasets: [cutLine(0, cutEpsC, 20, cutEpsC, violet), cutLine(cutTimeC, -0.5, cutTimeC, -1.5, navy)]
});
// (d)
makePanel({
  left: 639, top: 274, right: 1403, bottom: 387.7, xMin: 0, xMax: 20, yMin: 0.5, yMax: 1.0535,
  innerTop: tw5, innerBottom: tw5,
  yTicks: [0.6, 0.8, 1], yLabels: ["0.6", "0.8", "1"],
  datasets: [dotSeries(cutDTimes, cutDValues, violet)]
});
// (e)
makePanel({
  left: 639, top: 387.7, right: 1403, bottom: 595, xMin: 0, xMax: 20, yMin: -2.6, yMax: -0.48,
  yTicks: [-2.2, -1.8, -1.4, -1.0, -0.6], yLabels: ["\u22122.2", "\u22121.8", "\u22121.4", "\u22121.0", "\u22120.6"],
  extraPlugin: heatPlugin(heatEColumns, 0.5, -0.48, -2.6),
  datasets: [
    cutLine(0, cutEpsE, 20, cutEpsE, lightBlue),
    cutLine(cutTimeE, -0.5, cutTimeE, -2.6, darkGreen)
  ]
});
// (f)
makePanel({
  left: 639, top: 595, right: 1403, bottom: 698, xMin: 0, xMax: 20, yMin: 0.5, yMax: 1.0105,
  xTicks: [0, 5, 10, 15, 20], xLabels: ["0", "5", "10", "15", "20"], innerTop: tw5, xPad: 9,
  yTicks: [0.5, 0.7, 0.9], yLabels: ["0.5", "0.7", "0.9"],
  datasets: [dotSeries(cutFTimes, cutFValues, lightBlue)]
});
// (g)
makePanel({
  left: 1403, top: 69, right: 1644, bottom: 274, xMin: 0.398, xMax: 1.041, yMin: -1.5, yMax: -0.5,
  xTicks: [0.5, 0.75, 1], xLabels: ["0.5", "0.75", "1"], innerLeft: [-1.4, -1.0, -0.6], xPad: 6,
  datasets: [dotSeries(cutGValues, cutGEps, navy)]
});
// (h)
makePanel({
  left: 1403, top: 389, right: 1644, bottom: 594, xMin: 0.398, xMax: 1.041, yMin: -2.6, yMax: -0.48,
  xTicks: [0.5, 0.75, 1], xLabels: ["0.5", "0.75", "1"], innerLeft: [-2.2, -1.8, -1.4, -1.0, -0.6], xPad: 6,
  datasets: [dotSeries(cutHValues, cutHEps, darkGreen)]
});

// panel letters, axis titles, notes
const notes = [
  ["(a)", 17, 52], ["(b)", 17, 379], ["(c)", 530, 51], ["(d)", 530, 274], ["(e)", 530, 401], ["(f)", 526, 602],
  ["(g)", 1441, 87], ["(h)", 1441, 407],
  ["Convolved pulse", 284.5, 97], ["Double hat pulse", 296.7, 405],
  ["t (ns)", 296, 759], ["t<sub>w</sub> (ns)", 1026, 759],
  ["P<sub>S</sub>", 1056, 52],
  ["P<sub>S</sub>", 1524, 323], ["P<sub>S</sub>", 1524, 643],
  ["\u03b5 (mV)", 24, 225, "#000", true], ["\u03b5 (mV)", 24, 542, "#000", true],
  ["\u03b5<sub>s</sub> (mV)", 537, 178, "#000", true], ["\u03b5<sub>s</sub> (mV)", 537, 498, "#000", true],
  ["P<sub>S</sub>", 538, 332, "#000", true], ["P<sub>S</sub>", 538, 646, "#000", true],
  ["\u03b5<sub>s</sub> = \u22121.14 mV", 1190, 357, violet], ["\u03b5<sub>s</sub> = \u22121.41 mV", 1190, 635, lightBlue],
  ["t<sub>w</sub> = 15 ns", 1619, 190, navy, true], ["t<sub>w</sub> = 5.2 ns", 1619, 515, darkGreen, true]
];
notes.forEach(n => {
  let d = document.createElement("div");
  d.className = n[4] ? "lbl rot" : "lbl";
  d.innerHTML = n[0];
  d.style.left = n[1] + "px";
  d.style.top = n[2] + "px";
  if (n[3]) d.style.color = n[3];
  page.appendChild(d);
});
</script>
</body>
</html>
